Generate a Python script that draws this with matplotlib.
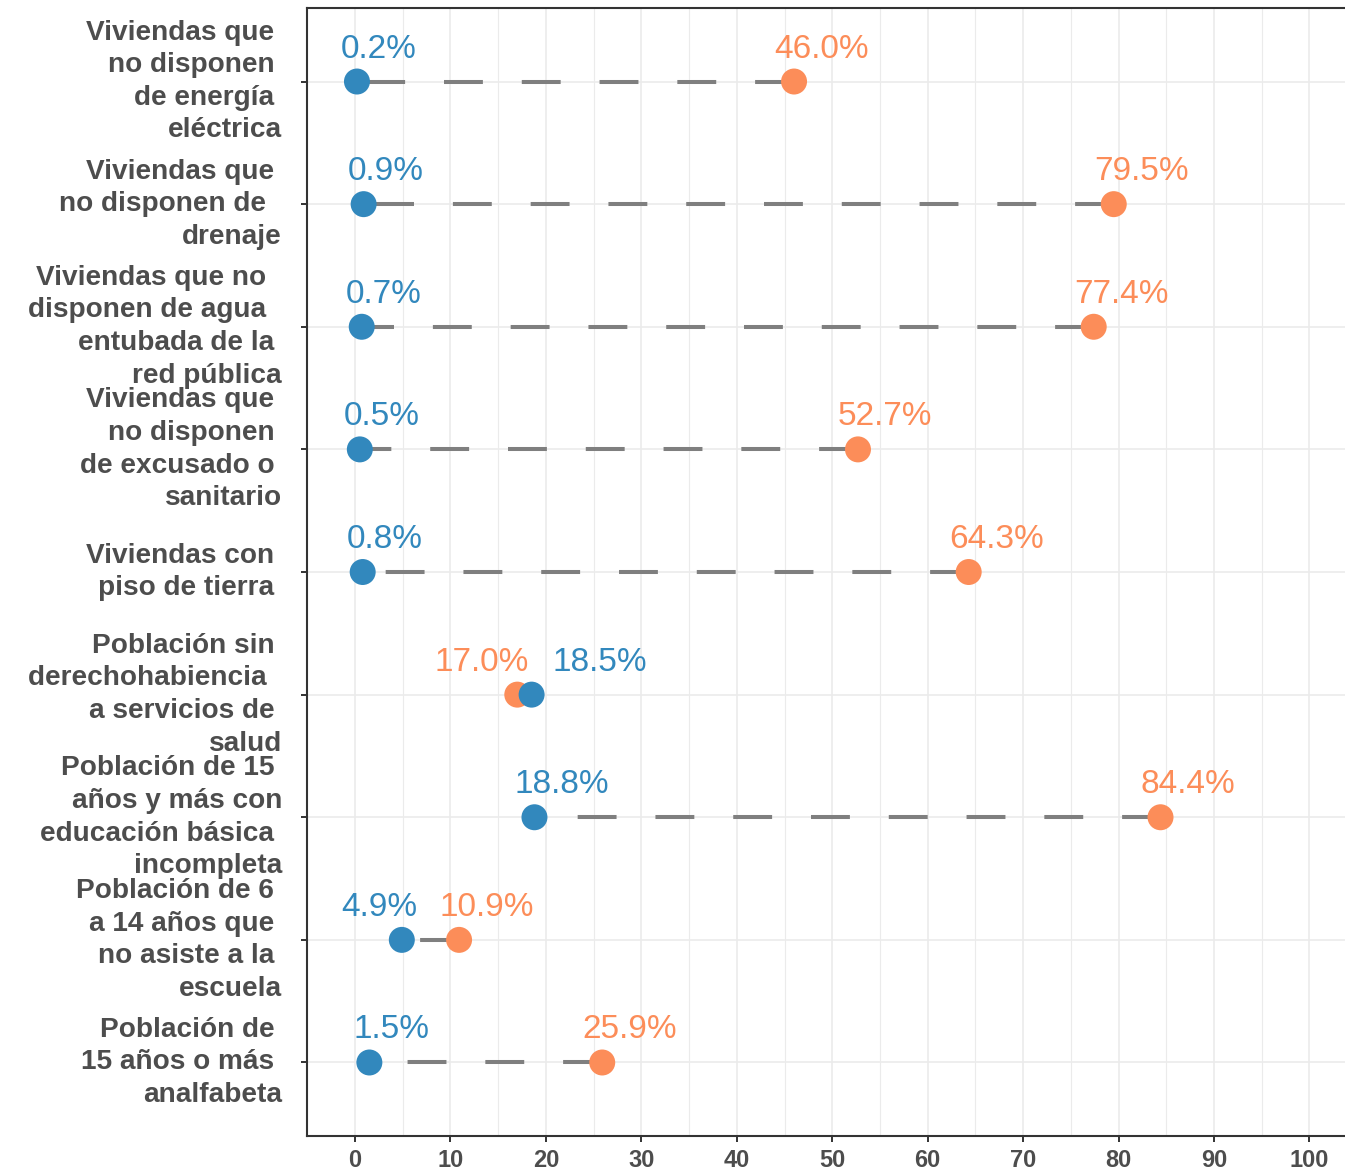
import numpy as np
import matplotlib.pyplot as plt

plt.rcParams['font.family'] = ['Liberation Sans', 'DejaVu Sans']
plt.rcParams['lines.scale_dashes'] = False

# etiquetas del eje y (con el ajuste de líneas del original)
categorias = [
    "Viviendas que \nno disponen \nde energía \neléctrica",
    "Viviendas que \nno disponen de  \ndrenaje",
    "Viviendas que no  \ndisponen de agua  \nentubada de la \nred pública",
    "Viviendas que \nno disponen \nde excusado o \nsanitario",
    "Viviendas con \npiso de tierra ",
    "Población sin \nderechohabiencia  \na servicios de \nsalud",
    "Población de 15 \naños y más con\neducación básica \nincompleta",
    "Población de 6 \na 14 años que \nno asiste a la \nescuela",
    "Población de \n15 años o más \nanalfabeta",
]
pct_azul = [0.2, 0.9, 0.7, 0.5, 0.8, 18.5, 18.8, 4.9, 1.5]
pct_naranja = [46.0, 79.5, 77.4, 52.7, 64.3, 17.0, 84.4, 10.9, 25.9]
ticks_x = list(range(0, 101, 10))

# anclaje horizontal de cada etiqueta (fracción del ancho del texto)
hjust_azul = [0.21, 0.21, 0.21, 0.21, 0.21, -0.22, 0.21, 0.79, 0.21]
hjust_naranja = [0.21, 0.21, 0.21, 0.21, 0.21, 0.88, 0.21, 0.21, 0.21]

AZUL = '#3288bd'
NARANJA = '#fc8d59'
GRIS = '#7f7f7f'

fig = plt.figure(figsize=(13.45, 11.7), dpi=100)
ax = fig.add_axes([0.2285, 0.029, 1.009 - 0.2285, 0.9932 - 0.029])

y = np.arange(len(categorias))
for i in y:
    ax.plot([pct_naranja[i], pct_azul[i]], [i, i], color=GRIS, lw=2.9,
            dashes=(28, 28), dash_capstyle='butt', zorder=2)
ax.scatter(pct_naranja, y, s=350, color=NARANJA, edgecolors='none', zorder=3)
ax.scatter(pct_azul, y, s=350, color=AZUL, edgecolors='none', zorder=4)

etiquetas = []
for i in y:
    for val, col, h in ((pct_azul[i], AZUL, hjust_azul[i]),
                        (pct_naranja[i], NARANJA, hjust_naranja[i])):
        t = ax.annotate(f"{val:.1f}%", (val, i), xytext=(0, 24),
                        textcoords='offset pixels', ha='left', va='baseline',
                        fontsize=24, color=col, zorder=5)
        etiquetas.append((t, h))

ax.set_xlim(-5, 105)
ax.set_ylim(len(categorias) - 1 + 0.6, -0.6)
ax.set_xticks(ticks_x)
ax.set_xticks(np.arange(5, 100, 10), minor=True)
ax.set_yticks(y)
ax.set_yticklabels(categorias, fontsize=20.2, fontweight='bold',
                   linespacing=1.33, ha='right', va='center')

ax.grid(which='major', color='#ebebeb', lw=1.2, zorder=0)
ax.grid(which='minor', axis='x', color='#ebebeb', lw=0.8, zorder=0)
ax.set_axisbelow(True)

for s in ['left', 'bottom', 'top']:
    ax.spines[s].set_color('#333333')
    ax.spines[s].set_linewidth(1.5)
ax.spines['right'].set_visible(False)

ax.tick_params(axis='both', which='major', length=4.3, width=1.4,
               color='#333333', labelcolor='#4d4d4d')
ax.tick_params(axis='x', labelsize=17, pad=5)
ax.tick_params(axis='y', pad=14)
ax.tick_params(which='minor', length=0)
for lab in ax.get_xticklabels():
    lab.set_fontweight('bold')

fig.canvas.draw()
for t, h in etiquetas:
    w = t.get_window_extent().width
    t.xyann = (-h * w, 24)

fig.savefig('out.png', dpi=100)
